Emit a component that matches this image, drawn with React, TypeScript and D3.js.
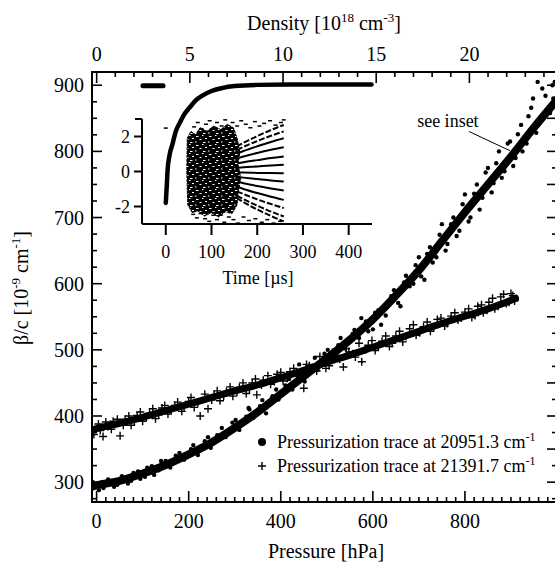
import React from "react";
import * as d3 from "d3";

// tick labels
const pressureLabels = [0, 200, 400, 600, 800];
const densityLabels = [0, 5, 10, 15, 20];
const betaLabels = [300, 400, 500, 600, 700, 800, 900];
const timeLabels = [0, 100, 200, 300, 400];
const residualLabels = [-2, 0, 2];

// pressurization trace at 20951.3 cm-1 (dots): centre of the band [hPa, beta/c]
const dotTrace: [number, number][] = [
  [-10, 293], [0, 295], [50, 302], [100, 313], [150, 326], [200, 342],
  [250, 360], [300, 382], [350, 406], [400, 433], [450, 460], [500, 487],
  [550, 515], [600, 546], [650, 582], [700, 620], [750, 664], [800, 708],
  [850, 750], [900, 792], [950, 836], [1000, 878],
];
const dotScatter: [number, number][] = [
  [-8, 300], [5, 288], [12, 299], [25, 304], [38, 293], [55, 309], [68, 298],
  [80, 314], [95, 305], [110, 322], [125, 311], [140, 332], [160, 322],
  [172, 340], [190, 334], [205, 350], [220, 341], [235, 362], [248, 352],
  [262, 371], [280, 368], [295, 390], [310, 379], [325, 399], [340, 397],
  [355, 415], [368, 404], [382, 430], [395, 425], [410, 446], [425, 440],
  [438, 462], [452, 452], [468, 476], [480, 470], [495, 494], [510, 486],
  [525, 507], [540, 502], [556, 524], [570, 518], [585, 543], [600, 531],
  [612, 560], [628, 552], [640, 581], [655, 571], [668, 602], [680, 596],
  [693, 628], [705, 611], [718, 645], [730, 632], [745, 674], [758, 650],
  [770, 690], [782, 672], [795, 720], [808, 694], [820, 736], [832, 712],
  [845, 768], [858, 738], [868, 782], [880, 760], [893, 812], [905, 778],
  [915, 826], [925, 800], [938, 853], [948, 880], [958, 905], [965, 850],
  [975, 884], [985, 858], [992, 880], [995, 905], [440, 478], [330, 412],
  [15, 291], [30, 302], [45, 296], [60, 306], [75, 302], [90, 316],
  [105, 308], [120, 324], [135, 318], [150, 332], [165, 328], [180, 344],
  [195, 339], [210, 356], [228, 352], [242, 368], [258, 364], [272, 382],
  [288, 376], [302, 394], [318, 390], [332, 410], [346, 402], [360, 424],
  [375, 418], [390, 440], [404, 434], [418, 456], [432, 450], [446, 470],
  [460, 466], [474, 488], [488, 482], [502, 500], [516, 496], [530, 518],
  [546, 512], [560, 530], [575, 548], [590, 528], [605, 556], [618, 538],
  [632, 570], [646, 590], [660, 566], [672, 612], [688, 600], [700, 640],
  [712, 606], [724, 655], [738, 640], [750, 690], [762, 660], [775, 700],
  [788, 680], [800, 735], [812, 700], [826, 750], [838, 730], [850, 775],
  [862, 752], [874, 800], [886, 770], [898, 815], [910, 790], [922, 840],
  [934, 812], [944, 866], [955, 828], [968, 895], [980, 862], [990, 900],
  [998, 870],
];

// pressurization trace at 21391.7 cm-1 (crosses)
const plusTrace: [number, number][] = [
  [-10, 379], [0, 381], [50, 389], [100, 398], [150, 408], [200, 418],
  [250, 428], [300, 438], [350, 447], [400, 458], [450, 469], [500, 481],
  [550, 492], [600, 504], [650, 516], [700, 528], [750, 540], [800, 551],
  [850, 562], [900, 575], [910, 578],
];
const plusScatter: [number, number][] = [
  [-6, 372], [4, 388], [14, 369], [24, 384], [36, 392], [51, 370], [62, 395],
  [75, 386], [88, 401], [100, 392], [115, 404], [128, 396], [142, 412],
  [155, 403], [170, 416], [185, 407], [200, 422], [212, 413], [225, 400],
  [242, 411], [255, 432], [268, 423], [282, 437], [296, 430], [310, 443],
  [325, 434], [338, 450], [348, 432], [362, 454], [378, 448], [392, 463],
  [405, 453], [420, 467], [436, 460], [450, 442], [462, 476], [478, 468],
  [492, 485], [505, 476], [520, 492], [536, 474], [548, 497], [562, 489],
  [576, 482], [590, 507], [605, 499], [620, 513], [636, 505], [650, 521],
  [665, 512], [680, 532], [694, 522], [710, 535], [725, 528], [740, 546],
  [756, 536], [770, 551], [785, 545], [800, 557], [815, 549], [828, 566],
  [840, 556], [852, 572], [865, 562], [878, 580], [890, 570], [900, 585],
  [908, 574], [8, 378], [20, 391], [32, 380], [45, 395], [58, 386],
  [70, 400], [82, 392], [95, 406], [108, 398], [122, 411], [135, 402],
  [148, 416], [162, 409], [176, 421], [190, 413], [205, 428], [220, 420],
  [235, 433], [250, 424], [262, 438], [276, 430], [290, 444], [305, 436],
  [318, 450], [332, 441], [345, 456], [358, 447], [372, 461], [386, 452],
  [400, 466], [414, 457], [428, 472], [442, 464], [456, 478], [470, 470],
  [485, 490], [498, 472], [512, 496], [528, 486], [542, 502], [556, 494],
  [570, 510], [584, 500], [598, 514], [612, 506], [628, 521], [642, 510],
  [658, 528], [672, 520], [688, 538], [702, 526], [718, 542], [732, 534],
  [748, 548], [762, 540], [778, 556], [792, 548], [808, 562], [822, 552],
  [836, 568], [848, 560], [860, 578], [872, 566], [884, 584], [896, 572],
  [904, 582],
];

// inset: time [us] vs residual
const insetCurve: [number, number][] = [
  [0, -1.8], [2, -0.9], [4, 0.1], [8, 0.9], [15, 1.6], [22, 2.3], [31, 2.8],
  [40, 3.25], [52, 3.65], [65, 4.05], [81, 4.35], [100, 4.6], [125, 4.78],
  [150, 4.88], [200, 4.95], [300, 4.97], [450, 4.97],
];
const insetBaseline: [number, number][] = [[-50, 4.9], [-6, 4.9]];
const insetCloud: [number, number][] = [
  [47, 1.9], [55, 2.3], [65, 2.1], [75, 2.5], [90, 2.3], [105, 2.6],
  [120, 2.4], [135, 2.7], [148, 2.5], [156, 1.9], [162, 1.1], [158, 0.4],
  [164, -0.4], [158, -1.2], [156, -1.9], [145, -2.4], [130, -2.3],
  [115, -2.6], [100, -2.35], [85, -2.55], [70, -2.25], [58, -2.35],
  [48, -1.9], [46, 0],
];
const insetSpeckles: [number, number][] = [
  [62, 2.55], [70, 2.8], [78, 2.45], [88, 2.7], [96, 2.9], [104, 2.5],
  [112, 2.8], [122, 2.6], [130, 2.95], [138, 2.45], [146, 2.8], [156, 2.6],
  [165, 2.9], [175, 2.7], [185, 2.5], [195, 2.85], [205, 2.6], [215, 2.75],
  [228, 2.9], [240, 2.65], [252, 2.8], [258, 2.95], [0, 2.48],
  [60, -2.45], [68, -2.65], [76, -2.4], [86, -2.7], [95, -2.85], [104, -2.5],
  [112, -2.75], [120, -2.5], [128, -2.9], [138, -2.6], [148, -2.75],
  [158, -2.95], [170, -2.6], [182, -2.8], [196, -2.7], [210, -2.9],
  [222, -2.75], [236, -2.95], [250, -2.85],
];
const fanTimes = [140, 170, 200, 230, 258];
const fanLines: number[][] = [
  [1.2, 1.64, 2.02, 2.37, 2.66],
  [1.03, 1.41, 1.74, 2.04, 2.29],
  [0.86, 1.17, 1.44, 1.69, 1.9],
  [0.63, 0.86, 1.06, 1.24, 1.39],
  [0.39, 0.53, 0.65, 0.77, 0.86],
  [0.17, 0.24, 0.29, 0.34, 0.38],
  [-0.05, -0.06, -0.08, -0.09, -0.1],
  [-0.26, -0.35, -0.43, -0.51, -0.57],
  [-0.49, -0.67, -0.83, -0.97, -1.09],
  [-0.73, -1.0, -1.23, -1.44, -1.62],
  [-0.94, -1.29, -1.59, -1.86, -2.09],
  [-1.16, -1.58, -1.95, -2.29, -2.57],
  [-1.28, -1.75, -2.17, -2.54, -2.85],
];

const font = "'Liberation Serif', 'Times New Roman', serif";

export default function App() {
  const left = 92, right = 557, top = 72, bottom = 502;

  const x = d3.scaleLinear().domain([-10, 1000]).range([left, right]);
  const xTop = d3.scaleLinear().domain([-0.25, 24.7]).range([left, right]);
  const y = d3.scaleLinear().domain([270, 920]).range([bottom, top]);

  const ix = d3.scaleLinear().domain([-52, 451]).range([142, 372]);
  const iy = d3.scaleLinear().domain([-3, 3]).range([224, 119]);

  const mainLine = d3
    .line<[number, number]>()
    .x((d) => x(d[0]))
    .y((d) => y(d[1]))
    .curve(d3.curveMonotoneX);
  const insetLine = d3
    .line<[number, number]>()
    .x((d) => ix(d[0]))
    .y((d) => iy(d[1]))
    .curve(d3.curveMonotoneX);
  const cloudPath = d3
    .line<[number, number]>()
    .x((d) => ix(d[0]))
    .y((d) => iy(d[1]))
    .curve(d3.curveLinearClosed);

  const bottomTicks = d3.range(0, 1001, 20);
  const topTicks = d3.range(0, 25, 1);
  const sideTicks = d3.range(275, 921, 25);

  const plusD = "M-4,0H4M0,-4V4";

  return (
    <svg
      width={555}
      height={562}
      style={{ position: "absolute", left: 0, top: 0, background: "#fff" }}
      fontFamily={font}
    >
      <defs>
        <clipPath id="plotClip">
          <rect x={left} y={top} width={right - left} height={bottom - top} />
        </clipPath>
        <pattern id="noise" width={13} height={9} patternUnits="userSpaceOnUse">
          <rect width={13} height={9} fill="#000" />
          <rect x={1} y={1} width={2.5} height={1} fill="#fff" />
          <rect x={7} y={0} width={1.5} height={1} fill="#fff" />
          <rect x={4.5} y={4} width={2} height={1} fill="#fff" />
          <rect x={10} y={3} width={2} height={1} fill="#fff" />
          <rect x={0} y={6.5} width={1.5} height={1} fill="#fff" />
          <rect x={8} y={7} width={2.5} height={1} fill="#fff" />
        </pattern>
      </defs>

      {/* data */}
      <g clipPath="url(#plotClip)">
        <path d={mainLine(dotTrace) ?? ""} fill="none" stroke="#000" strokeWidth={8} strokeLinecap="round" />
        {dotScatter.map((d, i) => (
          <circle key={"d" + i} cx={x(d[0])} cy={y(d[1])} r={2.2} fill="#000" />
        ))}
        <path d={mainLine(plusTrace) ?? ""} fill="none" stroke="#000" strokeWidth={7} strokeLinecap="round" />
        {plusScatter.map((d, i) => (
          <path key={"p" + i} d={plusD} transform={`translate(${x(d[0])},${y(d[1])})`} stroke="#000" strokeWidth={1.4} fill="none" />
        ))}
      </g>

      {/* frame */}
      <rect x={left} y={top} width={right - left} height={bottom - top} fill="none" stroke="#000" strokeWidth={2} />

      {/* bottom axis */}
      {bottomTicks.map((t) => (
        <line key={"b" + t} x1={x(t)} x2={x(t)} y1={bottom} y2={bottom - (t % 200 === 0 ? 11 : 5)} stroke="#000" strokeWidth={1.6} />
      ))}
      {pressureLabels.map((t) => (
        <text key={"bl" + t} x={x(t)} y={528} textAnchor="middle" fontSize={20}>{t}</text>
      ))}
      <text x={326} y={558} textAnchor="middle" fontSize={20}>Pressure [hPa]</text>

      {/* top axis */}
      {topTicks.map((t) => (
        <line key={"t" + t} x1={xTop(t)} x2={xTop(t)} y1={top} y2={top + (t % 5 === 0 ? 11 : 5)} stroke="#000" strokeWidth={1.6} />
      ))}
      {densityLabels.map((t) => (
        <text key={"tl" + t} x={xTop(t)} y={61} textAnchor="middle" fontSize={20}>{t}</text>
      ))}
      <text x={324} y={30} textAnchor="middle" fontSize={20}>
        Density [10<tspan dy={-8} fontSize={13}>18</tspan>
        <tspan dy={8}> cm</tspan>
        <tspan dy={-8} fontSize={13}>-3</tspan>
        <tspan dy={8}>]</tspan>
      </text>

      {/* left axis */}
      {sideTicks.map((t) => (
        <line key={"l" + t} x1={left} x2={left + (t % 100 === 0 ? 10 : 5)} y1={y(t)} y2={y(t)} stroke="#000" strokeWidth={1.6} />
      ))}
      {betaLabels.map((t) => (
        <text key={"ll" + t} x={84} y={y(t) + 7} textAnchor="end" fontSize={20}>{t}</text>
      ))}
      <text transform="translate(28,288) rotate(-90)" textAnchor="middle" fontSize={20}>
        β/c [10<tspan dy={-8} fontSize={13}>-9</tspan>
        <tspan dy={8}> cm</tspan>
        <tspan dy={-8} fontSize={13}>-1</tspan>
        <tspan dy={8}>]</tspan>
      </text>

      {/* right axis */}
      {sideTicks.map((t) => (
        <line key={"r" + t} x1={right} x2={right - (t % 50 === 0 ? 10 : 5)} y1={y(t)} y2={y(t)} stroke="#000" strokeWidth={1.6} />
      ))}

      {/* annotation */}
      <text x={x(763)} y={y(837)} textAnchor="middle" fontSize={18}>see inset</text>
      <line x1={x(809)} y1={y(830)} x2={x(898)} y2={y(801)} stroke="#000" strokeWidth={1} />

      {/* legend */}
      <circle cx={262} cy={442} r={4} fill="#000" />
      <text x={277} y={448} fontSize={18}>
        Pressurization trace at 20951.3 cm<tspan dy={-7} fontSize={12}>-1</tspan>
      </text>
      <path d={plusD} transform="translate(262,466)" stroke="#000" strokeWidth={1.4} fill="none" />
      <text x={277} y={472} fontSize={18}>
        Pressurization trace at 21391.7 cm<tspan dy={-7} fontSize={12}>-1</tspan>
      </text>

      {/* inset */}
      <g>
        <path d={insetLine(insetBaseline) ?? ""} fill="none" stroke="#000" strokeWidth={5} strokeLinecap="round" />
        <path d={insetLine(insetCurve) ?? ""} fill="none" stroke="#000" strokeWidth={4.5} strokeLinecap="round" />
        {fanLines.map((vals, i) => (
          <path
            key={"f" + i}
            d={insetLine(fanTimes.map((t, j) => [t, vals[j]] as [number, number])) ?? ""}
            fill="none"
            stroke="#000"
            strokeWidth={2}
            strokeDasharray={Math.abs(vals[4]) > 2 ? "6 2" : undefined}
          />
        ))}
        <path d={cloudPath(insetCloud) ?? ""} fill="url(#noise)" stroke="#000" strokeWidth={1} strokeDasharray="3 1" />
        {insetSpeckles.map((d, i) => (
          <line key={"s" + i} x1={ix(d[0]) - 2} x2={ix(d[0]) + 2} y1={iy(d[1])} y2={iy(d[1])} stroke="#000" strokeWidth={1.5} />
        ))}
        <line x1={ix(-52)} x2={ix(451)} y1={iy(-3)} y2={iy(-3)} stroke="#000" strokeWidth={2} />
        <line x1={ix(-52)} x2={ix(-52)} y1={iy(-3)} y2={iy(3)} stroke="#000" strokeWidth={2} />
        <line x1={ix(-52) - 7} x2={ix(-52)} y1={iy(3)} y2={iy(3)} stroke="#000" strokeWidth={2} />
        {timeLabels.map((t) => (
          <g key={"it" + t}>
            <line x1={ix(t)} x2={ix(t)} y1={iy(-3)} y2={iy(-3) + 11} stroke="#000" strokeWidth={2} />
            <text x={ix(t)} y={iy(-3) + 34} textAnchor="middle" fontSize={18}>{t}</text>
          </g>
        ))}
        {residualLabels.map((t) => (
          <g key={"ir" + t}>
            <line x1={ix(-52) - 8} x2={ix(-52)} y1={iy(t)} y2={iy(t)} stroke="#000" strokeWidth={2} />
            <text x={ix(-52) - 12} y={iy(t) + 6} textAnchor="end" fontSize={18}>{t}</text>
          </g>
        ))}
        <text x={258} y={284} textAnchor="middle" fontSize={18}>Time [µs]</text>
      </g>
    </svg>
  );
}
